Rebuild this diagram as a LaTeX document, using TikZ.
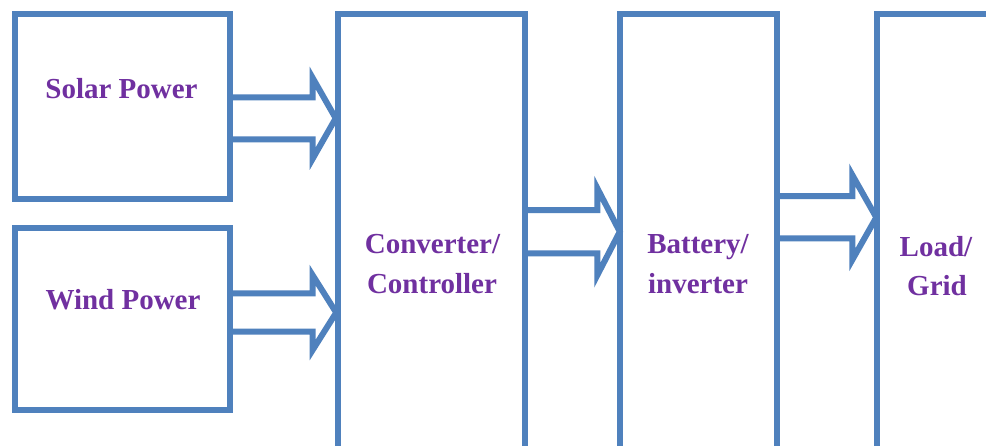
\documentclass[tikz,border=0pt]{standalone}
\usepackage{fontspec}
\setmainfont{Liberation Serif}
\definecolor{boxblue}{HTML}{4F81BD}
\definecolor{labelpurple}{HTML}{7030A0}
\tikzset{
  blockbox/.style={draw=boxblue, line width=6pt, inner sep=0pt, outer sep=0pt, fill=none},
  blockarrow/.style={draw=boxblue, line width=6pt, line join=miter, miter limit=10},
  lbl/.style={text=labelpurple, font=\bfseries\fontsize{29}{40}\selectfont, anchor=base, inner sep=0pt}
}
\begin{document}
\begin{tikzpicture}[x=1pt,y=-1pt]
\useasboundingbox (0,0) rectangle (986,445);
\clip (0,0) rectangle (986,445);
\fill[white] (0,0) rectangle (986,445);
% boxes
\node[blockbox, minimum width=215.2pt, minimum height=185pt] (solar) at (122.1,106.8) {};
\node[blockbox, minimum width=215.2pt, minimum height=181.4pt] (wind) at (122.1,319) {};
\node[blockbox, minimum width=186.7pt, minimum height=455.7pt] (conv) at (431.65,242.15) {};
\node[blockbox, minimum width=156.7pt, minimum height=455.7pt] (batt) at (698.35,242.15) {};
\node[blockbox, minimum width=119.3pt, minimum height=455.7pt] (load) at (936.35,242.15) {};
% block arrows
\draw[blockarrow] (229.7,97.3) -- (312.7,97.3) -- (312.7,78) -- (335.7,118.3) -- (312.7,158.6) -- (312.7,139.3) -- (229.7,139.3);
\draw[blockarrow] (229.7,293.3) -- (312.7,293.3) -- (312.7,275.3) -- (336.2,312.6) -- (312.7,349.9) -- (312.7,331.7) -- (229.7,331.7);
\draw[blockarrow] (525,210) -- (597.3,210) -- (597.3,188.2) -- (619.8,231.7) -- (597.3,275.2) -- (597.3,253.3) -- (525,253.3);
\draw[blockarrow] (776.7,196) -- (852.3,196) -- (852.3,175) -- (876.3,217.4) -- (852.3,259.8) -- (852.3,238.3) -- (776.7,238.3);
% labels
\node[lbl] (solartext) at (121.5,98.5) {Solar Power};
\node[lbl] (windtext) at (123,309) {Wind Power};
\node[lbl] (convtext1) at (432.5,253.3) {Converter/};
\node[lbl] (convtext2) at (432,293.3) {Controller};
\node[lbl] (batttext1) at (698,253.3) {Battery/};
\node[lbl] (batttext2) at (698,293.3) {inverter};
\node[lbl] (loadtext1) at (936,256.7) {Load/};
\node[lbl] (loadtext2) at (937,295.5) {Grid};
\end{tikzpicture}
\end{document}
